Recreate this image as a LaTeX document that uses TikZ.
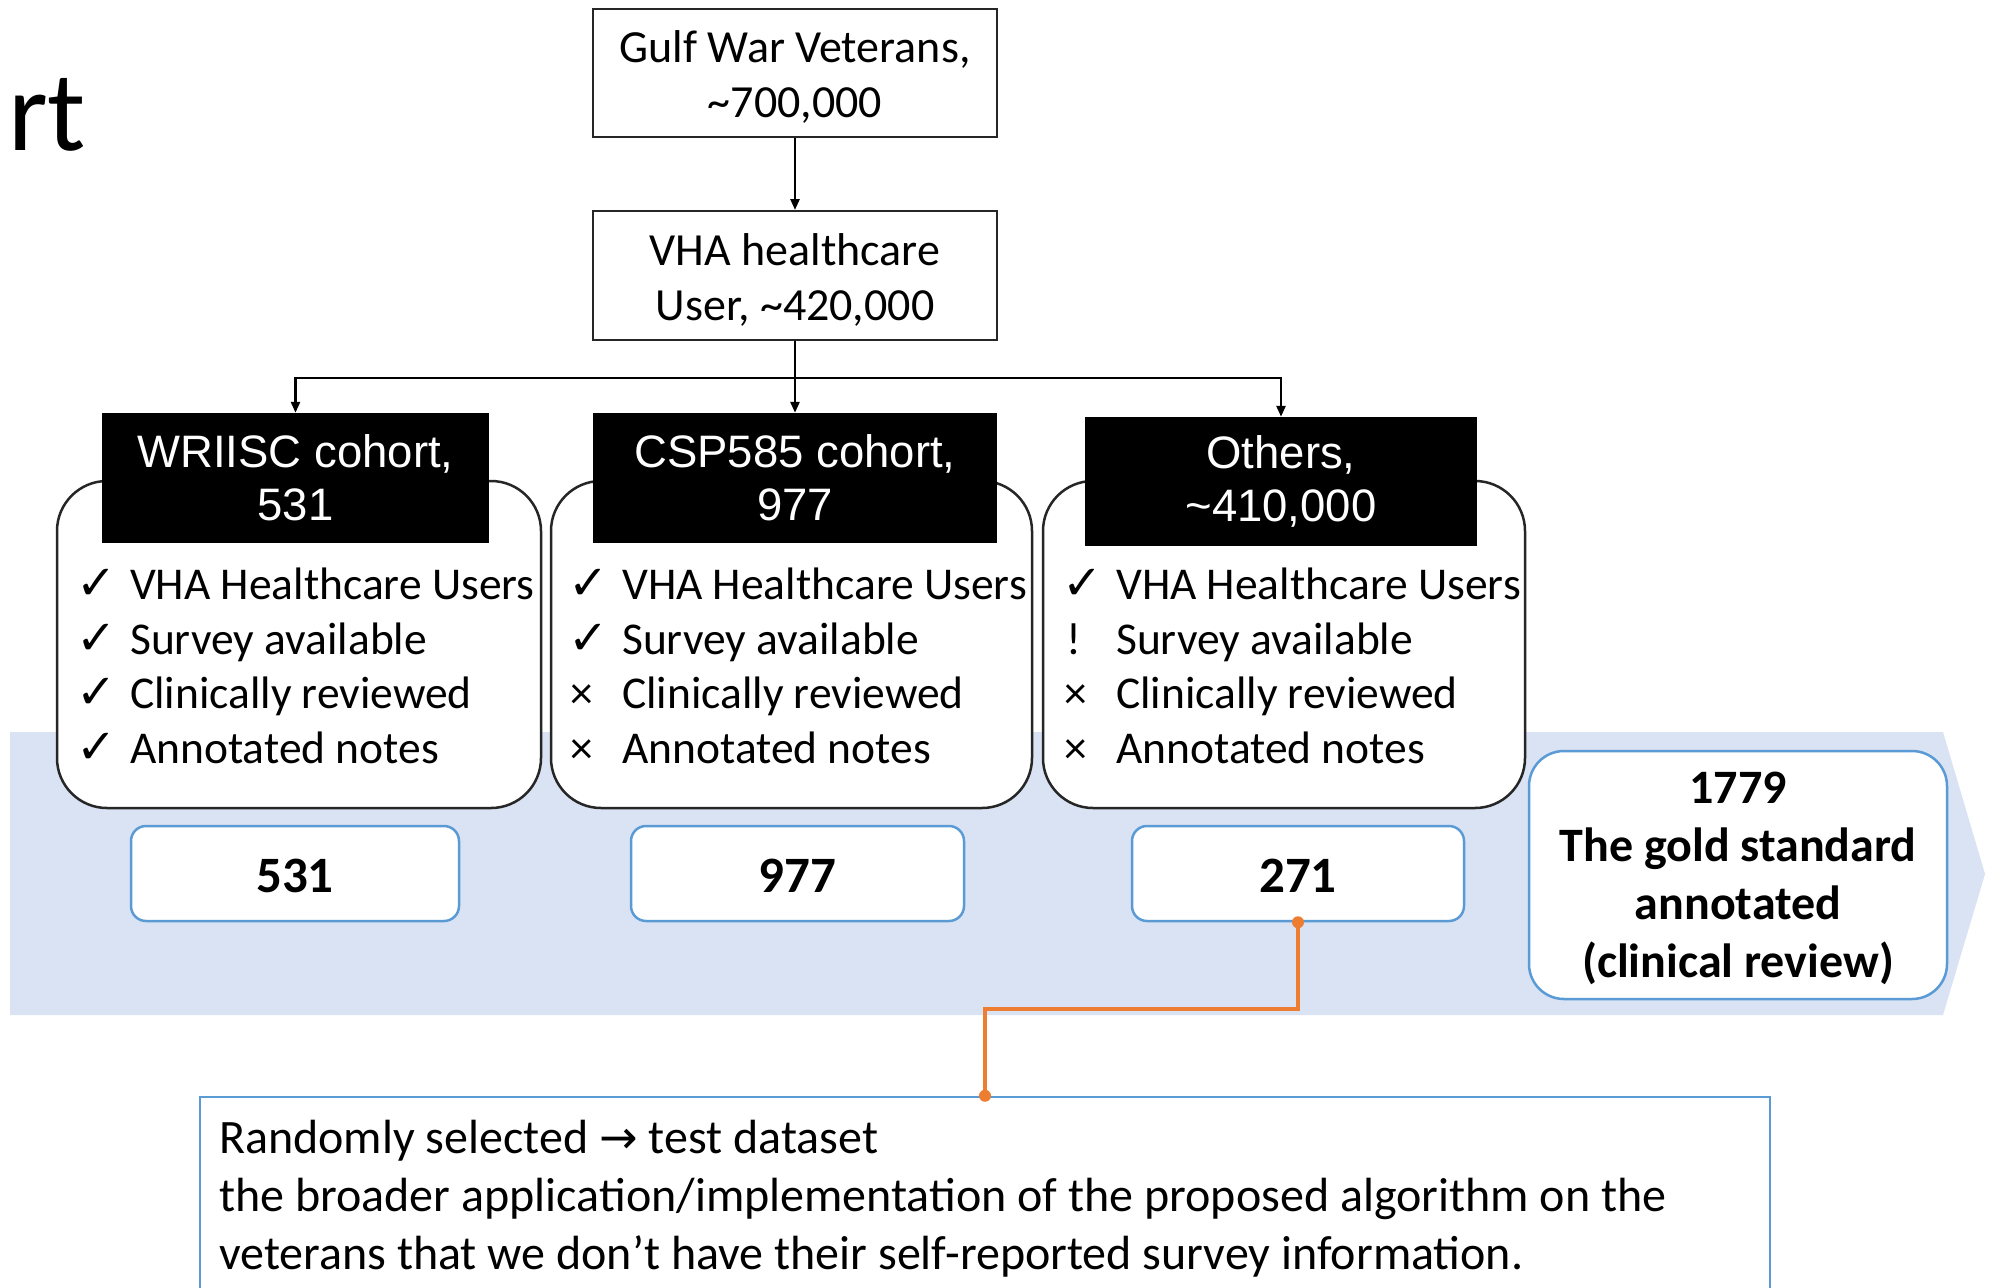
\documentclass[tikz,border=0pt]{standalone}
\usepackage{fontspec}
\setmainfont{Carlito}
\newfontfamily\arialf{Liberation Sans}
\newfontfamily\symf{DejaVu Sans}
\usetikzlibrary{arrows.meta}
\definecolor{bandc}{RGB}{218,227,243}
\definecolor{bblue}{RGB}{91,155,213}
\definecolor{orng}{RGB}{237,125,49}
\definecolor{dgray}{RGB}{38,38,38}
\newcommand{\mk}[1]{\makebox[54pt][l]{#1}}
\newcommand{\ck}{\mk{\symf\fontsize{48}{48}\selectfont ✓}}
\newcommand{\xx}{\mk{\hspace{2pt}×}}
\newcommand{\ex}{\mk{\hspace{4pt}!}}
\begin{document}
\begin{tikzpicture}[x=1pt,y=-1pt,
  plainbox/.style={draw=dgray,line width=2pt,fill=white,minimum width=404pt,minimum height=128pt,inner sep=0pt},
  boxtext/.style={inner sep=0pt,align=center,font=\fontsize{46}{55}\selectfont},
  hdr/.style={fill=black,text=white,minimum height=130pt,inner sep=0pt,align=center,font=\arialf\fontsize{45.5}{53}\selectfont},
  listbox/.style={draw=dgray,line width=2.5pt,rounded corners=50pt,fill=white,minimum height=327pt,inner sep=0pt},
  item/.style={anchor=base west,inner sep=0pt,font=\fontsize{45.5}{45.5}\selectfont},
  num/.style={draw=bblue,line width=2.5pt,rounded corners=15pt,fill=white,minimum height=95pt,inner sep=0pt,text height=38pt,text depth=0pt,font=\bfseries\fontsize{51}{51}\selectfont},
  gold/.style={draw=bblue,line width=2.5pt,rounded corners=35pt,fill=white,minimum width=418pt,minimum height=248pt,inner sep=0pt},
  goldtext/.style={inner sep=0pt,align=center,font=\bfseries\fontsize{48}{58}\selectfont},
  conn/.style={draw=black,line width=2.5pt},
  arr/.style={conn,-{Triangle[length=11pt,width=9pt]}},
  btext/.style={anchor=base west,inner sep=0pt,font=\fontsize{48}{48}\selectfont}
]
\useasboundingbox (0,0) rectangle (1995,1288);
\clip (0,0) rectangle (1995,1288);
\fill[white] (0,0) rectangle (1995,1288);

% title fragment
\node[anchor=base west,inner sep=0pt,font=\fontsize{114}{114}\selectfont] (title) at (8,150) {rt};

% band
\fill[bandc] (10,732) -- (1943,732) -- (1985,874) -- (1943,1015) -- (10,1015) -- cycle;

% top boxes
\node[plainbox] (g) at (795,73) {};
\node[boxtext] (gt) at (795,77) {Gulf War Veterans,\\\textasciitilde700,000};
\node[plainbox,minimum height=129pt] (v) at (795,275.5) {};
\node[boxtext] (vt) at (795,279.5) {VHA healthcare\\User, \textasciitilde420,000};

% list boxes
\node[listbox,minimum width=484pt] (wrb) at (299,644.5) {};
\node[listbox,minimum width=481pt] (cspb) at (791.5,644.5) {};
\node[listbox,minimum width=482pt] (otb) at (1284,644.5) {};

% headers
\node[hdr,minimum width=387pt] (wr) at (295.5,478) {WRIISC cohort,\\531};
\node[hdr,minimum width=404pt] (csp) at (795,478) {CSP585 cohort,\\977};
\node[hdr,minimum width=392pt,minimum height=129pt] (ot) at (1281,481.5) {Others,\\\textasciitilde410,000};

% connectors
\draw[arr] (g.south) -- (v.north);
\coordinate (j) at (795,378);
\draw[conn] (v.south) -- (j);
\draw[arr] (j) -- (csp.north);
\draw[arr] (j) -| (wr.north);
\draw[arr] (j) -| (ot.north);

% list items
\foreach \m/\tx [count=\i from 0] in {\ck/VHA Healthcare Users,\ck/Survey available,\ck/Clinically reviewed,\ck/Annotated notes}
  \node[item] (wl\i) at (76,599.5+54.7*\i) {\m\tx};
\foreach \m/\tx [count=\i from 0] in {\ck/VHA Healthcare Users,\ck/Survey available,\xx/Clinically reviewed,\xx/Annotated notes}
  \node[item] (cl\i) at (568,599.5+54.7*\i) {\m\tx};
\foreach \m/\tx [count=\i from 0] in {\ck/VHA Healthcare Users,\ex/Survey available,\xx/Clinically reviewed,\xx/Annotated notes}
  \node[item] (ol\i) at (1062,599.5+54.7*\i) {\m\tx};

% number boxes
\node[num,minimum width=328pt] (n1) at (295,873.5) {531};
\node[num,minimum width=333pt] (n2) at (797.5,873.5) {977};
\node[num,minimum width=332pt] (n3) at (1298,873.5) {271};

% gold standard
\node[gold] (gs) at (1738,875) {};
\node[goldtext] (gst) at (1738,878.5) {1779\\The gold standard\\annotated\\(clinical review)};

% bottom text box
\node[draw=bblue,line width=2.5pt,fill=white,minimum width=1570pt,minimum height=223pt,inner sep=0pt] (tb) at (985,1208.5) {};
\node[btext] (tb1) at (219,1153.5) {Randomly selected {\symf\fontsize{46}{46}\selectfont →} test dataset};
\node[btext] (tb2) at (219,1211.5) {the broader application/implementation of the proposed algorithm on the};
\node[btext] (tb3) at (219,1269.5) {veterans that we don’t have their self-reported survey information.};

% orange connector
\draw[orng,line width=3.5pt] (n3.south) -- (n3.south |- 0,1009) -| (tb.north);
\fill[orng] (n3.south) circle (6pt);
\fill[orng] (tb.north) circle (6pt);
\end{tikzpicture}
\end{document}
